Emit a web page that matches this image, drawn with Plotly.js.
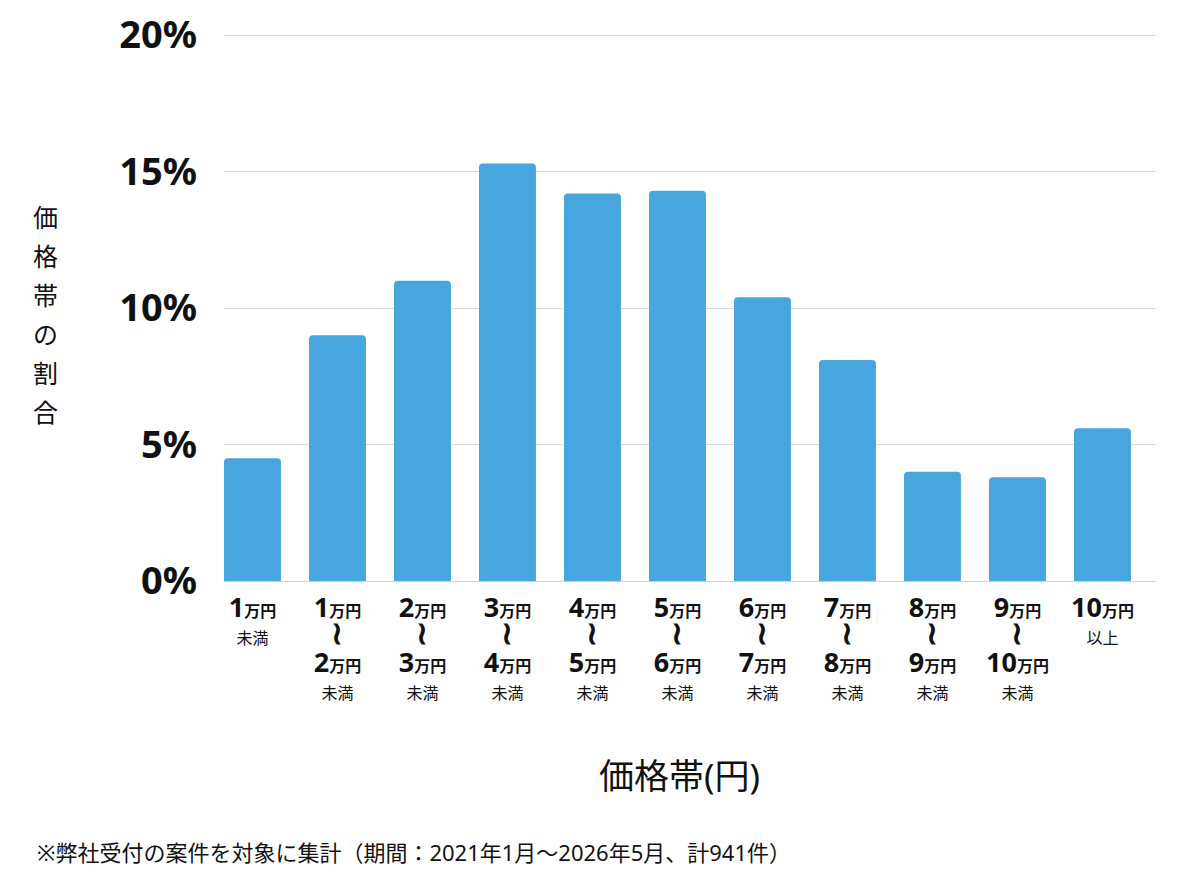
<!DOCTYPE html>
<html>
<head>
<meta charset="utf-8">
<script src="https://cdn.plot.ly/plotly-3.0.1.min.js"></script>
<style>
	html, body {margin:0; padding:0; background:#fff;}
	#myDiv {width:1200px; height:874px;}
</style>
</head>
<body>
<div id="myDiv"></div>
<script>
// price bands (lower / upper bound in 万円, and suffix word)
var bandFrom = ['1', '1', '2', '3', '4', '5', '6', '7', '8', '9', '10'];
var bandTo = ['', '2', '3', '4', '5', '6', '7', '8', '9', '10', ''];
var bandWord = ['未満', '未満', '未満', '未満', '未満', '未満', '未満', '未満', '未満', '未満', '以上'];
// share of each band (%)
var shareValues = [4.5, 9.0, 11.0, 15.3, 14.2, 14.3, 10.4, 8.1, 4.0, 3.8, 5.6];
var yTickVals = [0, 5, 10, 15, 20];
var yTickText = ['0%', '5%', '10%', '15%', '20%'];

var jpFont = 'Noto Sans, Noto Sans CJK JP, sans-serif';

function yen(n){
	return '<b><span style="font-size:27px">' + n + '</span><span style="font-size:16px">万円</span></b>';
}

var xIdx = [];
var xText = [];
for (var i in bandFrom){
	xIdx.push(Number(i));
	var label;
	if (bandTo[i] == ''){
		label = yen(bandFrom[i]) + '<br><span style="font-size:16px">' + bandWord[i] + '</span>';
	} else {
		label = yen(bandFrom[i]) + '<br><b><span style="font-size:32px">≀</span></b><br>' + yen(bandTo[i]) +
			'<br><span style="font-size:16px">' + bandWord[i] + '</span>';
	}
	xText.push(label);
};

var data = [{
	x: xIdx,
	y: shareValues,
	type: 'bar',
	width: 0.67,
	marker: {color: '#48a6df', cornerradius: 4},
	hoverinfo: 'y'
}];

var layout = {
	width: 1200,
	height: 874,
	font: {family: jpFont, color: '#111'},
	paper_bgcolor: '#fff',
	plot_bgcolor: '#fff',
	showlegend: false,
	margin: {l: 224, r: 44, t: 34, b: 293, pad: 0},
	xaxis: {
		range: [-0.335, 10.63],
		tickvals: xIdx,
		ticktext: xText,
		tickfont: {size: 21, color: '#111'},
		ticklabelstandoff: 14,
		ticks: '',
		showgrid: false,
		zeroline: false,
		showline: false,
		fixedrange: true
	},
	yaxis: {
		range: [0, 20.04],
		tickvals: yTickVals,
		ticktext: yTickText.map(function(t){return '<b>' + t + '</b>';}),
		tickfont: {size: 38, color: '#111'},
		ticklabelstandoff: 26,
		showgrid: true,
		gridcolor: '#d9d9d9',
		gridwidth: 1,
		zeroline: true,
		zerolinecolor: '#d0d0d0',
		zerolinewidth: 1,
		showline: false,
		fixedrange: true
	},
	annotations: [
		{
			text: '<span style="font-size:25px">価</span><br><span style="font-size:25px">格</span><br><span style="font-size:25px">帯</span><br><span style="font-size:25px">の</span><br><span style="font-size:25px">割</span><br><span style="font-size:25px">合</span>',
			xref: 'paper', yref: 'paper',
			x: -0.192, y: 0.488,
			xanchor: 'center', yanchor: 'middle',
			showarrow: false,
			font: {size: 30, color: '#111'}
		},
		{
			text: '価格帯(円)',
			xref: 'paper', yref: 'paper',
			x: 0.489, y: -0.355,
			xanchor: 'center', yanchor: 'middle',
			showarrow: false,
			font: {size: 35, color: '#111'}
		},
		{
			text: '※弊社受付の案件を対象に集計（期間：2021年1月〜2026年5月、計941件）',
			xref: 'paper', yref: 'paper',
			x: -0.2028, y: -0.496,
			xanchor: 'left', yanchor: 'middle',
			showarrow: false,
			font: {size: 22, color: '#111'}
		}
	]
};

Plotly.newPlot('myDiv', data, layout, {displayModeBar: false, responsive: false});
</script>
</body>
</html>
